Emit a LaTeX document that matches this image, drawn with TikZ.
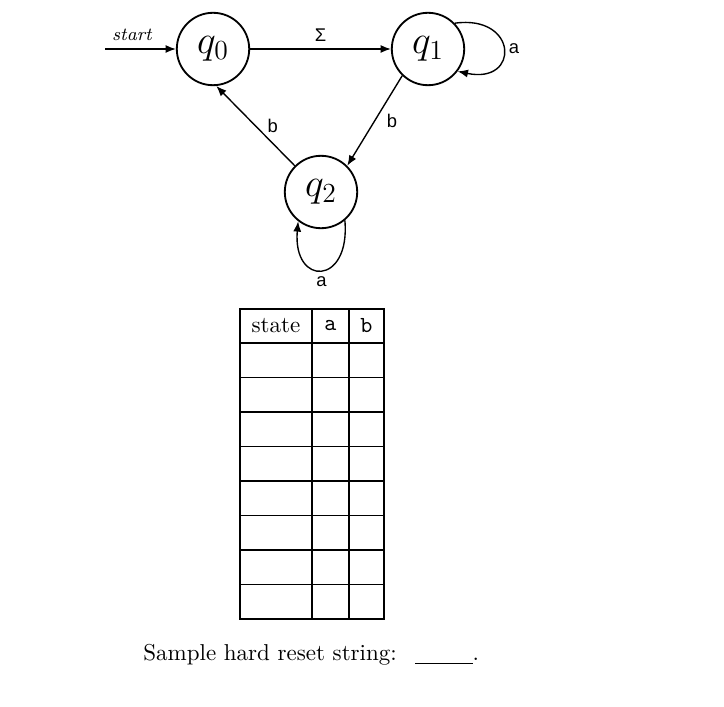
\documentclass[tikz,border=0pt]{standalone}
\usepackage{fontspec}
\newfontfamily\edgefont{Liberation Sans}
\usetikzlibrary{arrows.meta}

\tikzset{
  qstate/.style={circle, draw, line width=0.8pt, minimum size=31.5pt, inner sep=0pt, font=\LARGE},
  trans/.style={line width=0.6pt, -{Latex[length=4.5pt,width=3.5pt]}},
  lbl/.style={font=\edgefont\fontsize{8}{9}\selectfont, inner sep=1pt},
  tbl/.style={line width=0.8pt},
}

\begin{document}
\begin{tikzpicture}[x=0.435pt,y=0.435pt]
\useasboundingbox (0,0) rectangle (724,-706);
\fill[white] (0,0) rectangle (724,-706);
% states
\node[qstate] (q0) at (213,-49)  {$q_0$};
\node[qstate] (q1) at (428,-49)  {$q_1$};
\node[qstate] (q2) at (321,-192) {$q_2$};
\coordinate (s) at (105,-49);
% transitions
\draw[trans] (s) -- (q0) node[pos=0.38, above, font=\itshape\fontsize{8}{9}\selectfont] {start};
\draw[trans] (q0) -- node[lbl, above=2pt] {Σ} (q1);
\draw[trans] (q1.-134) -- node[lbl, right=4pt] {b} (q2.45);
\draw[trans] (q2.135) -- node[lbl, right=4pt] {b} (q0.-85);
\draw[trans] (q1.44) to[out=8, in=-12, looseness=3.4] node[lbl, right=1pt] {a} (q1.-37);
\draw[trans] (q2.-50) to[out=-85, in=-95, looseness=3.6] node[lbl, below=1.5pt] {a} (q2.-128);
% table
\draw[tbl] (240,-309) rectangle (384,-619);
\foreach \y in {343,377.5,412,446.5,481,515.5,550,584.5}
  \draw[tbl] (240,-\y) -- (384,-\y);
\draw[tbl] (312,-309) -- (312,-619);
\draw[tbl] (349,-309) -- (349,-619);
\node (hs) at (276,-326)   {state};
\node (ha) at (330.5,-326) {\ttfamily a};
\node (hb) at (366.5,-326) {\ttfamily b};
% question
\node[anchor=base west, inner sep=0pt] (reset) at (143,-660)
  {Sample hard reset string:\hspace{8pt}\underline{\hspace{25pt}}.};
\end{tikzpicture}
\end{document}
